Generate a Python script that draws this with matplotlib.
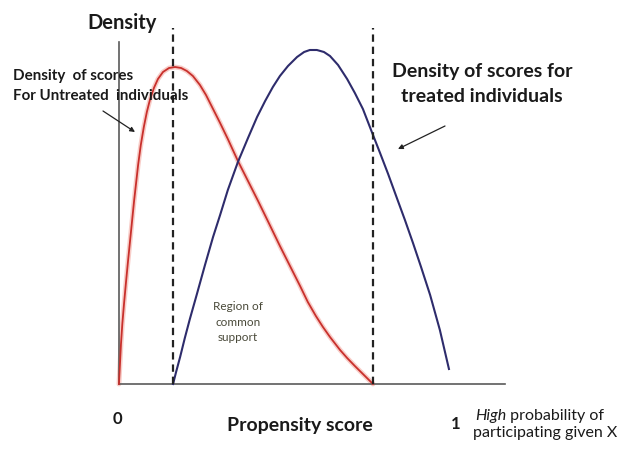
import matplotlib
matplotlib.use("Agg")
import matplotlib.pyplot as plt

# ---- data (propensity score, density) ----
untreated_x = [0.000, 0.003, 0.006, 0.010, 0.015, 0.021, 0.027, 0.033, 0.039, 0.045,
               0.051, 0.057, 0.065, 0.074, 0.083, 0.092, 0.104, 0.116, 0.131, 0.149,
               0.167, 0.185, 0.202, 0.220, 0.241, 0.259, 0.280, 0.301, 0.324, 0.354,
               0.384, 0.414, 0.443, 0.479, 0.509, 0.539, 0.562, 0.586, 0.607, 0.628,
               0.658, 0.679, 0.702, 0.726, 0.756]
untreated_y = [0.00, 0.20, 0.40, 0.60, 0.80, 1.02, 1.23, 1.43, 1.63, 1.83,
               2.01, 2.19, 2.39, 2.57, 2.72, 2.84, 2.96, 3.05, 3.12, 3.16,
               3.17, 3.16, 3.13, 3.08, 2.99, 2.89, 2.75, 2.61, 2.45, 2.23,
               2.03, 1.83, 1.63, 1.38, 1.18, 0.98, 0.82, 0.68, 0.57, 0.47,
               0.34, 0.26, 0.18, 0.10, 0.00]

treated_x = [0.161, 0.170, 0.182, 0.196, 0.211, 0.232, 0.256, 0.280, 0.301, 0.324,
             0.354, 0.384, 0.411, 0.435, 0.458, 0.479, 0.503, 0.530, 0.551, 0.568,
             0.589, 0.610, 0.628, 0.652, 0.679, 0.702, 0.726, 0.741, 0.756, 0.777,
             0.801, 0.827, 0.851, 0.875, 0.899, 0.926, 0.955, 0.982]
treated_y = [0.00, 0.12, 0.27, 0.46, 0.65, 0.90, 1.19, 1.47, 1.69, 1.94,
             2.22, 2.46, 2.67, 2.83, 2.97, 3.08, 3.18, 3.27, 3.32, 3.34,
             3.34, 3.32, 3.28, 3.19, 3.05, 2.91, 2.75, 2.62, 2.49, 2.31,
             2.10, 1.86, 1.64, 1.41, 1.17, 0.89, 0.54, 0.15]

support_bounds = [0.161, 0.756]   # region of common support (dashed lines)
support_top = 3.56
axis_x_end = 1.149
axis_y_end = 3.42

W, H = 621, 452
fig = plt.figure(figsize=(W / 100, H / 100), dpi=100)
fig.patch.set_facecolor("white")
ax = fig.add_axes([0, 0, 1, 1])
ax.set_xlim(-0.354, 1.494)
ax.set_ylim(-0.67, 3.85)
ax.set_xticks([])
ax.set_yticks([])
for s in ["top", "right"]:
    ax.spines[s].set_visible(False)
ax.spines["left"].set_position(("data", 0))
ax.spines["bottom"].set_position(("data", 0))
ax.spines["left"].set_bounds(0, axis_y_end)
ax.spines["bottom"].set_bounds(0, axis_x_end)
for s in ["left", "bottom"]:
    ax.spines[s].set_color("#5a5a5a")
    ax.spines[s].set_linewidth(1.2)

# curves
ax.plot(untreated_x, untreated_y, color="#f3a49c", lw=3.5, alpha=0.55,
        solid_capstyle="round", solid_joinstyle="round", zorder=2)
ax.plot(untreated_x, untreated_y, color="#c8302c", lw=1.3,
        solid_joinstyle="round", zorder=3)
ax.plot(treated_x, treated_y, color="#2e2c6c", lw=1.5,
        solid_joinstyle="round", zorder=3)

# dashed lines
for xv in support_bounds:
    ax.plot([xv, xv], [0, support_top], color="#222222", lw=1.6,
            linestyle=(0, (3.3, 2.2)), zorder=4)


def fp(px, py):
    return (px / W, 1 - py / H)


TF = fig.transFigure
bold = dict(family="Lato", fontweight="bold", color="#1a1a1a")

fig.text(*fp(122, 23), "Density", ha="center", va="center", fontsize=14.5, transform=TF, **bold)
fig.text(*fp(13, 86), "Density  of scores\nFor Untreated  individuals", ha="left", va="center",
         fontsize=10.9, linespacing=1.5, transform=TF, **bold)
fig.text(*fp(482, 84), "Density of scores for\ntreated individuals", ha="center", va="center",
         fontsize=14, linespacing=1.6, transform=TF, **bold)

fig.text(*fp(238, 322), "Region of\ncommon\nsupport", ha="center", va="center",
         fontsize=8.5, family="Lato", color="#4a4a3a", linespacing=1.55, transform=TF)

fig.text(*fp(117, 419), "0", ha="center", va="center", fontsize=12, transform=TF, **bold)
fig.text(*fp(300, 426), "Propensity score", ha="center", va="center", fontsize=14,
         transform=TF, **bold)
fig.text(*fp(456, 424), "1", ha="center", va="center", fontsize=12, transform=TF, **bold)

t_high = fig.text(*fp(475, 416), "High", ha="left", va="center", fontsize=11.5,
                  family="Lato", style="italic", color="#1a1a1a", transform=TF)
ax.annotate(" probability of", xy=(1, 0.5), xycoords=t_high, ha="left", va="center",
            fontsize=11.5, family="Lato", color="#1a1a1a")
fig.text(*fp(545, 433), "participating given X", ha="center", va="center", fontsize=11.5,
         family="Lato", color="#1a1a1a", transform=TF)

# arrows
ax.annotate("", xy=fp(135, 133), xytext=fp(103, 112), xycoords="figure fraction",
            textcoords="figure fraction",
            arrowprops=dict(arrowstyle="-|>", color="#222222", lw=0.9,
                            mutation_scale=7, shrinkA=0, shrinkB=0))
ax.annotate("", xy=fp(398, 150), xytext=fp(445, 127), xycoords="figure fraction",
            textcoords="figure fraction",
            arrowprops=dict(arrowstyle="-|>", color="#222222", lw=0.9,
                            mutation_scale=7, shrinkA=0, shrinkB=0))

fig.savefig("out.png", dpi=100, facecolor="white")
